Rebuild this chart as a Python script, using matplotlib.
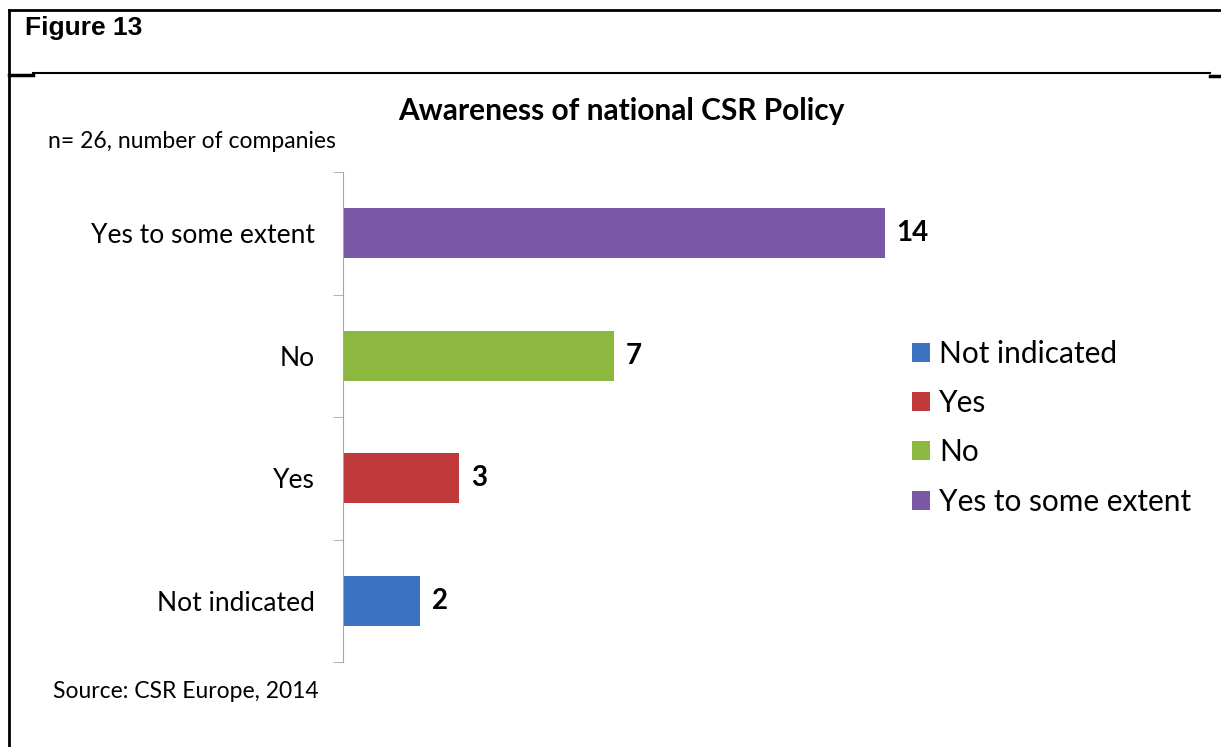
import matplotlib.pyplot as plt
from matplotlib.lines import Line2D
from matplotlib.patches import Patch

categories = ['Not indicated', 'Yes', 'No', 'Yes to some extent']
counts = [2, 3, 7, 14]
colors = ['#3b73c0', '#c0393b', '#8cb83f', '#7a58a6']

W, H = 1221, 747
fig = plt.figure(figsize=(W / 100, H / 100), dpi=100)
plt.rcParams['font.family'] = ['Lato', 'DejaVu Sans']

def fx(px):
    return px / W

def fy(py):
    return 1 - py / H

# page frame lines
fig.add_artist(Line2D([fx(9), 1], [fy(10), fy(10)], color='black', lw=2))
fig.add_artist(Line2D([fx(9), fx(9)], [fy(10), 0], color='black', lw=2))
fig.add_artist(Line2D([fx(33), fx(1210)], [fy(73), fy(73)], color='black', lw=1.5))
fig.add_artist(Line2D([fx(9), fx(33)], [fy(75), fy(75)], color='black', lw=2.5))
fig.add_artist(Line2D([fx(1210), 1], [fy(76), fy(76)], color='black', lw=2.5))

fig.text(fx(25), fy(28), 'Figure 13', fontsize=19, fontweight='bold',
         family='Liberation Sans', va='center', ha='left')

ax = fig.add_axes([fx(343), fy(662), fx(885 - 343), (662 - 172) / H])
y = range(len(categories))
bars = ax.barh(y, counts, height=0.41, color=colors)
ax.set_xlim(0, 14)
ax.set_ylim(-0.5, 3.5)

for s in ['top', 'right', 'bottom']:
    ax.spines[s].set_visible(False)
ax.spines['left'].set_color('#a6a6a6')
ax.set_xticks([])
ax.set_yticks(list(y))
ax.set_yticklabels(categories, fontsize=19)
ax.tick_params(axis='y', which='major', length=0, pad=20)
ax.set_yticks([i - 0.5 for i in range(len(categories) + 1)], minor=True)
ax.tick_params(axis='y', which='minor', length=7, color='#a6a6a6', direction='out')

for b, v in zip(bars, counts):
    ax.text(b.get_width() + 0.3, b.get_y() + b.get_height() / 2, str(v),
            fontsize=20, fontweight='bold', va='center', ha='left', clip_on=False)

fig.text(fx(621), fy(111), 'Awareness of national CSR Policy', fontsize=21.5,
         fontweight='bold', ha='center', va='center')
fig.text(fx(48), fy(142), 'n= 26, number of companies', fontsize=16.5, va='center')
fig.text(fx(53), fy(692), 'Source: CSR Europe, 2014', fontsize=16.5, va='center')

handles = [Patch(facecolor=c, label=l) for c, l in zip(colors, categories)]
fig.legend(handles=handles, loc='upper left', bbox_to_anchor=(fx(900), fy(328)),
           frameon=False, fontsize=21.5, handlelength=0.6, handleheight=0.6,
           handletextpad=0.3, labelspacing=0.71, borderaxespad=0)

fig.savefig('out.png', dpi=100)
